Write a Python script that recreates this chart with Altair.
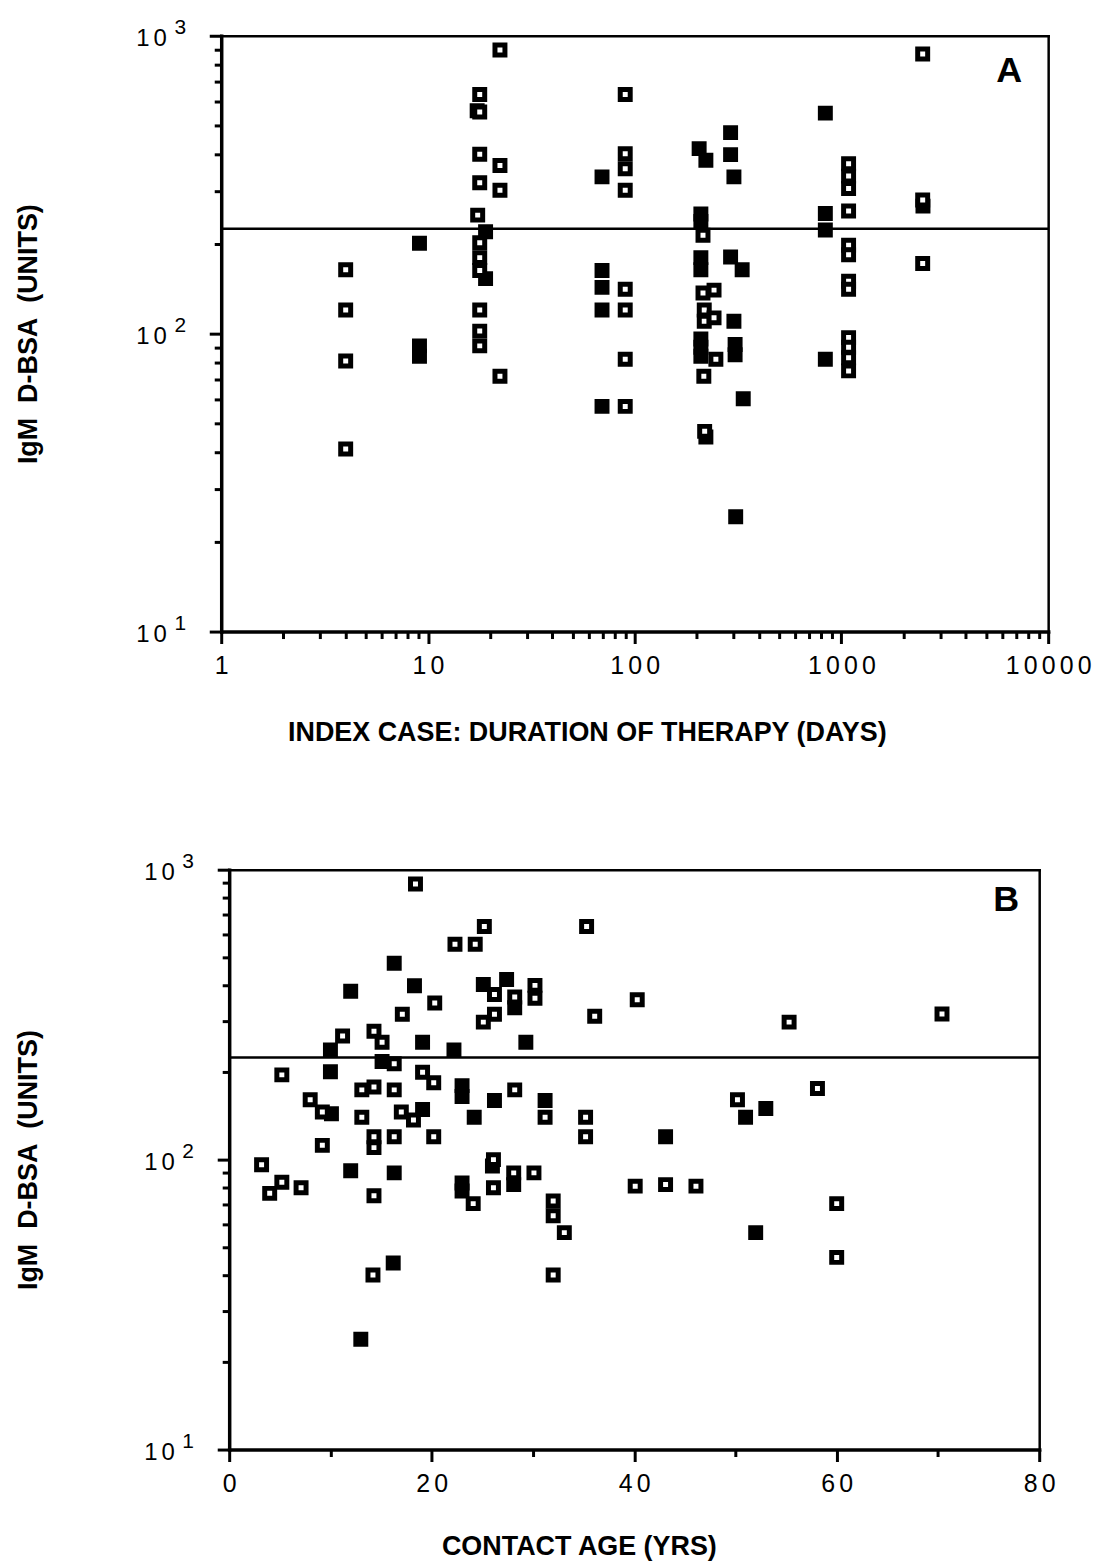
import altair as alt
import pandas as pd

FONT = "Liberation Sans"
SP = "\u2006"

# ---------------- Panel A : duration of therapy (days) vs IgM ----------------
A_OPEN_DAYS = [4, 4, 4, 4,
               17.8, 17.8, 17.8, 17.8, 17.4, 17.8, 17.8, 17.8, 17.8, 17.8, 17.8,
               22.3, 22.3, 22.3, 22.3,
               90, 90, 90, 90, 90, 90, 90, 90,
               214, 214, 217, 217, 242, 242, 247, 216, 218,
               1083, 1083, 1083, 1083, 1083, 1083, 1083, 1083, 1083, 1083, 1083, 1083,
               2472, 2472, 2472]
A_OPEN_IGM = [164, 120, 81, 41,
              635, 555, 400, 321, 250, 202, 180, 163, 120, 102, 91,
              896, 367, 303, 72,
              635, 402, 358, 303, 141, 120, 82, 57,
              214, 137, 120, 110, 140, 113, 82, 72, 47,
              372, 338, 307, 258, 198, 184, 150, 141, 97, 90, 83, 75,
              869, 281, 172]

A_FILLED_DAYS = [9.1, 9.1, 9.1,
                 17.3, 19.0, 19.0,
                 69.5, 69.5, 69.5, 69.5, 69.5,
                 205, 221, 209, 209, 209, 209, 209, 209, 209, 221,
                 291, 291, 291, 302, 302, 331, 306, 306, 335, 308,
                 836, 836, 836, 836,
                 2480]
A_FILLED_IGM = [201, 91, 84,
                560, 220, 153,
                336, 163, 143, 120, 57,
                418, 382, 252, 238, 180, 164, 96, 90, 84, 45,
                473, 399, 181, 336, 110, 164, 92, 85, 60.5, 24.3,
                550, 253, 223, 82,
                268]

# ---------------- Panel B : contact age (yrs) vs IgM ----------------
B_OPEN_AGE = [18.4, 25.2, 22.3, 24.3, 35.3, 20.3, 17.1, 26.2, 28.2, 30.2, 30.2,
              25.1, 26.2, 36.1, 40.3, 11.2, 14.3, 15.1, 16.3, 5.2, 19.1, 20.2,
              13.1, 14.3, 16.3, 28.2, 8.0, 9.2, 13.1, 17.0, 18.2, 20.2, 31.2,
              35.2, 35.2, 9.2, 14.3, 14.3, 16.3, 3.2, 26.1, 55.3, 70.4, 58.1,
              50.2, 4.0, 5.2, 7.1, 14.3, 24.1, 26.1, 28.1, 30.1, 32.0, 32.0,
              33.1, 32.0, 40.1, 14.2, 43.1, 46.1, 60.0, 60.0]
B_OPEN_IGM = [893, 637, 553, 553, 637, 347, 317, 371, 364, 399, 360,
              298, 317, 312, 356, 267, 277, 254, 214, 196, 200, 184,
              174, 178, 174, 174, 161, 146, 140, 146, 137, 120, 140,
              140, 120, 112, 120, 110, 120, 96, 100, 298, 318, 176,
              161, 76.5, 83.5, 80, 75, 70.5, 80, 90, 90, 72, 64,
              56, 40, 81, 40, 82, 81, 70.5, 46]

B_FILLED_AGE = [16.3, 12.0, 18.3, 25.1, 27.4, 28.2, 10.0, 19.1, 22.2, 29.3,
                15.1, 10.0, 23.0, 23.0, 26.2, 31.2, 10.1, 19.1, 24.2, 51.0,
                53.0, 43.1, 12.0, 16.3, 23.0, 23.0, 26.0, 28.1, 52.0, 16.2, 13.0]
B_FILLED_IGM = [476, 381, 398, 402, 418, 334, 239, 254, 239, 254,
                218, 201, 180, 165, 160, 160, 144, 149, 140, 140,
                150, 120, 91.6, 90, 83, 78, 95, 82, 56, 44, 24]

THRESHOLD = 225

Y_MAJOR = [10, 100, 1000]
Y_EXP = ["1", "2", "3"]
Y_MINOR = [20, 30, 40, 50, 60, 70, 80, 90, 200, 300, 400, 500, 600, 700, 800, 900]

A_X_MAJOR = [1, 10, 100, 1000, 10000]
A_X_MINOR = [2, 3, 4, 5, 6, 7, 8, 9, 20, 30, 40, 50, 60, 70, 80, 90,
             200, 300, 400, 500, 600, 700, 800, 900,
             2000, 3000, 4000, 5000, 6000, 7000, 8000, 9000]
B_X_MAJOR = [0, 20, 40, 60, 80]
B_X_MINOR = [10, 30, 50, 70]

A_XTITLE = "INDEX CASE: DURATION OF THERAPY (DAYS)"
B_XTITLE = "CONTACT AGE (YRS)"
YTITLE = "IgM\u00a0\u00a0D-BSA\u00a0\u00a0(UNITS)"


def make_panel(open_x, open_y, filled_x, filled_y, xdomain, xlog, xmajor, xminor,
               xtitle, width, height, x0, ytitle_x, xtitle_x, xtitle_y,
               letter, letter_dx, letter_dy):
    df_open = pd.DataFrame({"x": open_x, "y": open_y})
    df_filled = pd.DataFrame({"x": filled_x, "y": filled_y})
    yscale = alt.Scale(type="log", domain=[10, 1000], nice=False)
    if xlog:
        xscale = alt.Scale(type="log", domain=xdomain, nice=False, range=[x0, width])
    else:
        xscale = alt.Scale(domain=xdomain, nice=False, zero=False, range=[x0, width])

    common = dict(domainColor="black", tickColor="black", labelColor="black",
                  titleColor="black", grid=False)

    x_major = alt.Axis(values=xmajor, format="d", orient="bottom", title=xtitle,
                       labelExpr=f"join(split(datum.label, ''), '{SP}')",
                       labelFont=FONT, labelFontSize=25, labelPadding=10,
                       labelFlush=False, labelOverlap=False, labelBound=False,
                       tickSize=12, tickWidth=3, domainWidth=3.5, domainCap="square",
                       titleFont=FONT, titleFontSize=27, titleFontWeight="bold",
                       titleX=xtitle_x, titleY=xtitle_y, titleAlign="center",
                       titleBaseline="alphabetic", **common)
    y_major = alt.Axis(values=Y_MAJOR, labelExpr=f"'1{SP}0'", orient="left", title=YTITLE,
                       offset=-x0,
                       labelFont=FONT, labelFontSize=24, labelPadding=43,
                       labelAlign="right", labelBaseline="alphabetic", labelOffset=10,
                       labelOverlap=False, labelBound=False, labelFlush=False,
                       tickSize=12, tickWidth=3, domainWidth=3.5, domainCap="square",
                       titleFont=FONT, titleFontSize=27, titleFontWeight="bold",
                       titleAngle=270, titleX=ytitle_x, titleAlign="center",
                       titleBaseline="alphabetic", **common)
    x_minor = alt.Axis(values=xminor, orient="bottom", labels=False, title=None,
                       domain=False, tickSize=7, tickWidth=3, **common)
    y_minor = alt.Axis(values=Y_MINOR, orient="left", labels=False, title=None,
                       offset=-x0, domain=False, tickSize=7, tickWidth=3, **common)
    x_top = alt.Axis(orient="top", labels=False, ticks=False, title=None,
                     domainWidth=2.5, domainCap="square", **common)
    y_right = alt.Axis(orient="right", labels=False, ticks=False, title=None,
                       domainWidth=2.5, domainCap="square", **common)

    frame = alt.Chart(df_filled).mark_point(opacity=0).encode(
        x=alt.X("x:Q", scale=xscale, axis=x_top),
        y=alt.Y("y:Q", scale=yscale, axis=y_right),
    )
    minor = alt.Chart(df_filled).mark_point(opacity=0).encode(
        x=alt.X("x:Q", scale=xscale, axis=x_minor),
        y=alt.Y("y:Q", scale=yscale, axis=y_minor),
    )
    rule = alt.Chart(pd.DataFrame({"y": [THRESHOLD], "xa": [xdomain[0]], "xb": [xdomain[1]]})).mark_rule(
        color="black", strokeWidth=2.5
    ).encode(
        x=alt.X("xa:Q", scale=xscale, axis=None),
        x2="xb:Q",
        y=alt.Y("y:Q", scale=yscale, axis=None),
    )
    filled = alt.Chart(df_filled).mark_square(
        size=100, color="black", stroke="black", strokeWidth=5, opacity=1
    ).encode(
        x=alt.X("x:Q", scale=xscale, axis=x_major),
        y=alt.Y("y:Q", scale=yscale, axis=y_major),
    )
    opened = alt.Chart(df_open).mark_square(
        size=100, fill="white", stroke="black", strokeWidth=5, opacity=1
    ).encode(
        x=alt.X("x:Q", scale=xscale, axis=None),
        y=alt.Y("y:Q", scale=yscale, axis=None),
    )
    exps = alt.Chart(pd.DataFrame({"v": Y_MAJOR, "e": Y_EXP})).mark_text(
        align="left", baseline="alphabetic", fontSize=21, font=FONT, dy=-2, color="black"
    ).encode(
        x=alt.value(x0 - 47),
        y=alt.Y("v:Q", scale=yscale, axis=None),
        text="e:N",
    )
    lett = alt.Chart(pd.DataFrame({"t": [letter]})).mark_text(
        align="right", baseline="alphabetic", fontSize=36, fontWeight="bold",
        font=FONT, color="black"
    ).encode(x=alt.value(width - letter_dx), y=alt.value(letter_dy), text="t:N")

    return alt.layer(frame, minor, rule, filled, opened, exps, lett).resolve_axis(
        x="independent", y="independent"
    ).properties(width=width, height=height)


panel_a = make_panel(A_OPEN_DAYS, A_OPEN_IGM, A_FILLED_DAYS, A_FILLED_IGM,
                     [1, 10000], True, A_X_MAJOR, A_X_MINOR, A_XTITLE,
                     830, 598, 0, -185, 367, 109, "A", 26, 46)
panel_b = make_panel(B_OPEN_AGE, B_OPEN_IGM, B_FILLED_AGE, B_FILLED_IGM,
                     [0, 80], False, B_X_MAJOR, B_X_MINOR, B_XTITLE,
                     821, 582, 8, -193, 359, 105, "B", 20, 41)

chart = alt.vconcat(panel_a, panel_b, spacing=106).properties(
    padding={"left": 7, "top": 6, "right": 0, "bottom": 0}
).configure_view(strokeWidth=0)

chart.save("out.html", embed_options={"renderer": "svg", "actions": False})
